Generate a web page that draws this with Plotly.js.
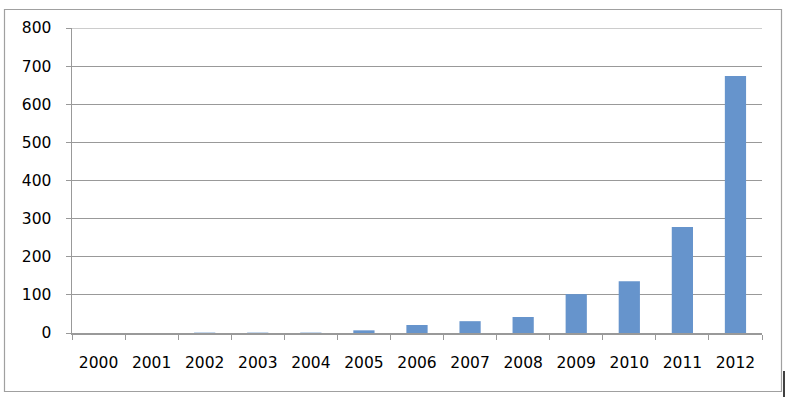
<!DOCTYPE html>
<html><head><meta charset="utf-8">
<script src="https://cdn.plot.ly/plotly-3.0.1.min.js"></script>
<style>html,body{margin:0;padding:0;background:#fff;}#chart{width:785px;height:397px;}</style>
</head><body><div id="chart"></div>
<script>
const years = ["2000","2001","2002","2003","2004","2005","2006","2007","2008","2009","2010","2011","2012"];
const counts = [0, 0, 1, 1, 1, 7, 21, 31, 42, 102, 136, 278, 674];
const yTicks = [0,100,200,300,400,500,600,700,800];

const W = 785, H = 397, L = 72, R = 23, T = 28, B = 64;
const pw = W - L - R, ph = H - T - B;
const px = x => (x - L) / pw;
const py = y => (H - B - y) / ph;

Plotly.newPlot('chart', [{
  type: 'bar', x: years, y: counts,
  marker: {color: '#6694cc'},
  hoverinfo: 'x+y'
}], {
  width: W, height: H,
  margin: {l: L, r: R, t: T, b: B, pad: 0},
  paper_bgcolor: '#fff', plot_bgcolor: '#fff',
  bargap: 0.6,
  showlegend: false,
  font: {family: 'DejaVu Sans, sans-serif', size: 15.5, color: '#000'},
  xaxis: {
    type: 'category', tickson: 'boundaries', ticks: 'outside', ticklen: 5,
    tickcolor: '#999', showline: true, linecolor: '#999', linewidth: 1.5,
    showgrid: false, ticklabelstandoff: 15
  },
  yaxis: {
    range: [0, 800], tickvals: yTicks, ticks: 'outside', ticklen: 5,
    tickcolor: '#999', showline: true, linecolor: '#999', linewidth: 1.5,
    gridcolor: '#999', gridwidth: 1.2, zeroline: false,
    ticklabelstandoff: 11
  },
  shapes: [
    {type: 'rect', xref: 'paper', yref: 'paper', x0: px(4.5), x1: px(781.5), y0: py(391.5), y1: py(9.5),
     line: {color: '#a0a0a0', width: 1.2}, layer: 'below'},
    {type: 'line', xref: 'paper', yref: 'y', x0: 0, x1: 1, y0: yTicks[yTicks.length - 1], y1: yTicks[yTicks.length - 1],
     line: {color: '#999', width: 1.2}, layer: 'below'},
    {type: 'line', xref: 'paper', yref: 'paper', x0: px(784), x1: px(784), y0: py(397), y1: py(371),
     line: {color: '#000', width: 1.5}}
  ]
}, {staticPlot: true});
</script></body></html>
